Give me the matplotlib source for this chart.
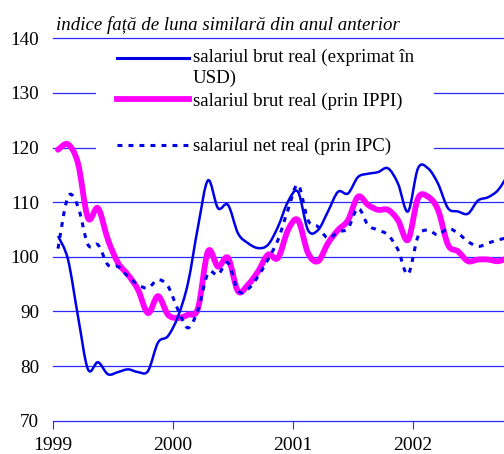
import numpy as np
import matplotlib
matplotlib.use('Agg')
import matplotlib.pyplot as plt
from matplotlib.lines import Line2D
from matplotlib.patches import Rectangle, PathPatch
from matplotlib.path import Path

plt.rcParams['font.family'] = ['Liberation Serif', 'DejaVu Serif']

# monthly indices, Jan 1999 .. Oct 2002
usd = [103.8, 99.5, 89.1, 79.4, 80.7, 78.5, 78.9, 79.4, 78.9, 79.1, 84.3, 85.5,
       89.1, 95.2, 105.5, 114.0, 108.9, 109.5, 104.3, 102.5, 101.6, 102.2, 105.5, 110.1,
       111.9, 104.9, 104.9, 108.3, 111.9, 111.6, 114.6, 115.2, 115.5, 116.2, 113.4, 108.3,
       116.2, 116.2, 113.4, 108.9, 108.3, 107.9, 110.3, 110.9, 112.2, 115.0]
ippi = [119.6, 120.6, 117.1, 107.1, 108.9, 103.1, 98.9, 96.7, 94.0, 89.7, 92.8, 89.4,
        88.8, 89.4, 90.6, 101.0, 98.2, 99.8, 93.7, 94.9, 97.3, 100.4, 99.8, 104.9,
        106.7, 100.7, 99.2, 102.5, 104.9, 106.7, 111.0, 109.5, 108.6, 108.6, 106.7, 103.1,
        110.7, 111.0, 108.6, 102.2, 101.0, 99.2, 99.5, 99.5, 99.2, 99.8]
ipc = [101.5, 111.0, 109.2, 102.2, 102.2, 98.5, 98.2, 96.4, 94.9, 94.3, 95.8, 94.6,
       90.3, 87.0, 90.3, 97.0, 96.7, 98.9, 93.8, 94.1, 96.4, 99.5, 103.1, 108.6,
       113.2, 106.7, 105.5, 103.4, 104.6, 105.2, 108.9, 105.8, 104.9, 104.0, 101.3, 96.8,
       103.7, 104.9, 104.0, 105.2, 104.3, 102.8, 101.9, 102.5, 103.1, 103.5]
years = [1999, 2000, 2001, 2002]
labels = ['salariul brut real (exprimat în\nUSD)',
          'salariul brut real (prin IPPI)',
          'salariul net real (prin IPC)']
title = 'indice față de luna similară din anul anterior'

x = 1999 + (np.arange(len(usd)) + 0.5) / 12.0


def smooth_path(xs, ys):
    # smoothed line like the spreadsheet one: bezier segments through the points
    pts = np.column_stack([xs, ys])
    verts = [pts[0]]
    codes = [Path.MOVETO]
    n = len(pts)
    for i in range(n - 1):
        p0 = pts[max(i - 1, 0)]
        p1 = pts[i]
        p2 = pts[i + 1]
        p3 = pts[min(i + 2, n - 1)]
        verts += [p1 + (p2 - p0) / 6.0, p2 - (p3 - p1) / 6.0, p2]
        codes += [Path.CURVE4] * 3
    return Path(verts, codes)


W, H = 504, 454
fig = plt.figure(figsize=(W / 100, H / 100), dpi=100)
ax = fig.add_axes([53 / W, 1 - 420.7 / H, 1 - 53 / W, (420.7 - 38.3) / H])

grid_c = '#2a2aff'
for v in range(80, 141, 10):
    ax.axhline(v, color=grid_c, lw=0.9, zorder=1, clip_on=False)

ax.add_patch(PathPatch(smooth_path(x, usd), fill=False, edgecolor='#0000e6',
                       lw=1.8, zorder=4, joinstyle='round'))
ax.add_patch(PathPatch(smooth_path(x, ippi), fill=False, edgecolor='#ff00ff',
                       lw=4.2, zorder=3, joinstyle='round', capstyle='round'))
ax.add_patch(PathPatch(smooth_path(x, ipc), fill=False, edgecolor='#0000e6',
                       lw=2.2, ls=(0, (1.6, 2.0)), zorder=4))

ax.set_xlim(1999, 2002 + 91 / 120)
ax.set_ylim(70, 140)
ax.set_yticks(range(70, 141, 10))
ax.set_xticks(years)
ax.set_xticklabels([str(y) for y in years])
for s in ['top', 'right', 'left']:
    ax.spines[s].set_visible(False)
ax.spines['bottom'].set_color(grid_c)
ax.spines['bottom'].set_linewidth(0.9)
ax.tick_params(axis='y', length=0, labelsize=13.8, pad=10)
ax.tick_params(axis='x', length=6, color=grid_c, labelsize=14, pad=5.5)

# legend drawn by hand (white box hides the grid behind it)
def fx(px):
    return px / W

def fy(py):
    return 1 - py / H

fig.patches.append(Rectangle((fx(96), fy(163)), fx(434) - fx(96), fy(44) - fy(163),
                             transform=fig.transFigure, facecolor='white',
                             edgecolor='none', zorder=2))
handles = [dict(color='#0000e6', lw=2.2, ls='-', y=58),
           dict(color='#ff00ff', lw=4.2, ls='-', y=99),
           dict(color='#0000e6', lw=2.2, ls=(0, (1.6, 2.0)), y=145)]
for h in handles:
    fig.add_artist(Line2D([fx(117), fx(189)], [fy(h['y'])] * 2, color=h['color'],
                          lw=h['lw'], ls=h['ls'], transform=fig.transFigure,
                          zorder=5))
fig.text(fx(193), fy(49), labels[0], fontsize=13.6, va='top', ha='left',
         linespacing=1.25, zorder=5)
fig.text(fx(193), fy(101), labels[1], fontsize=13.6, va='center', ha='left', zorder=5)
fig.text(fx(193), fy(146), labels[2], fontsize=13.6, va='center', ha='left', zorder=5)

fig.text(fx(56), fy(25), title, fontsize=13.6, style='italic', va='center', ha='left')

fig.savefig('out.png', dpi=100)
